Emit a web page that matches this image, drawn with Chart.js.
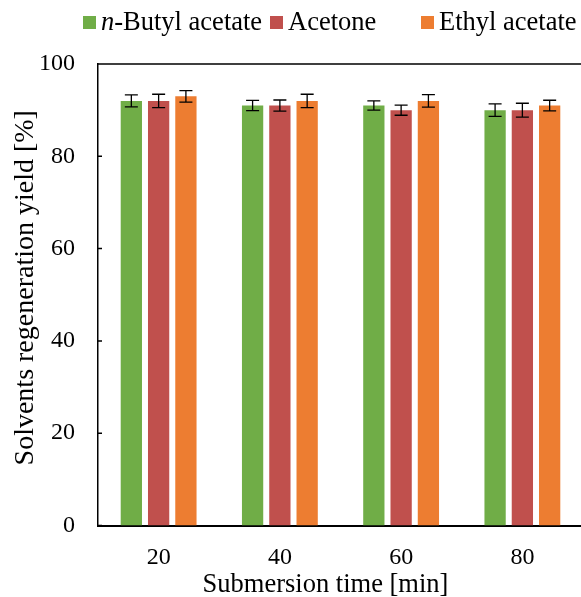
<!DOCTYPE html>
<html>
<head>
    <title>Solvents regeneration yield</title>
    <script src="https://cdn.jsdelivr.net/npm/chart.js"></script>
    <style>
        html, body {margin: 0; padding: 0; background: #fff; overflow: hidden;}
        #wrap {position: absolute; left: 0; top: 0; width: 600px; height: 597px;}
        #legend {position: absolute; left: 0; top: 0; width: 600px; height: 40px; font: 26.5px "Liberation Serif", "Times New Roman", serif; color: #000;}
        .lg-box {position: absolute; top: 16px; width: 13px; height: 13px;}
        .lg-text {position: absolute; top: 8px; line-height: 26.5px; white-space: nowrap;}
    </style>
</head>
<body>
    <div id="wrap">
        <canvas id="myChart"></canvas>
    </div>
    <div id="legend"></div>
    <script>
        var categories = ['20', '40', '60', '80'];
        var seriesNames = ['n-Butyl acetate', 'Acetone', 'Ethyl acetate'];
        var butylYield = [92, 91, 91, 90];
        var acetoneYield = [92, 91, 90, 90];
        var ethylYield = [93, 92, 92, 91];
        var butylErr = [1.3, 1.1, 1.0, 1.35];
        var acetoneErr = [1.45, 1.2, 1.1, 1.5];
        var ethylErr = [1.25, 1.45, 1.35, 1.15];
        var colors = ['#70AD47', '#C0504D', '#ED7D31'];
        var xTitle = 'Submersion time [min]';
        var yTitle = 'Solvents regeneration yield [%]';

        var serif = '"Liberation Serif", "Times New Roman", serif';

        // legend in html so the "n" can be italic
        var legendX = [83, 270, 421];
        var legend = document.getElementById('legend');
        seriesNames.forEach(function(name, i) {
            var box = document.createElement('div');
            box.className = 'lg-box';
            box.style.left = legendX[i] + 'px';
            box.style.background = colors[i];
            legend.appendChild(box);
            var txt = document.createElement('div');
            txt.className = 'lg-text';
            txt.style.left = (legendX[i] + 18) + 'px';
            if (name.indexOf('n-') === 0) {
                txt.innerHTML = '<i>n</i>' + name.slice(1);
            } else {
                txt.textContent = name;
            }
            legend.appendChild(txt);
        });

        var errors = [butylErr, acetoneErr, ethylErr];

        var errorBars = {
            id: 'errorBars',
            afterDatasetsDraw: function(chart) {
                var ctx = chart.ctx;
                var y = chart.scales.y;
                ctx.save();
                ctx.strokeStyle = '#000';
                ctx.lineWidth = 1.3;
                chart.data.datasets.forEach(function(ds, d) {
                    var meta = chart.getDatasetMeta(d);
                    meta.data.forEach(function(bar, i) {
                        var top = y.getPixelForValue(ds.data[i] + errors[d][i]);
                        var bot = y.getPixelForValue(ds.data[i] - errors[d][i]);
                        ctx.beginPath();
                        ctx.moveTo(bar.x, top); ctx.lineTo(bar.x, bot);
                        ctx.moveTo(bar.x - 6.5, top); ctx.lineTo(bar.x + 6.5, top);
                        ctx.moveTo(bar.x - 6.5, bot); ctx.lineTo(bar.x + 6.5, bot);
                        ctx.stroke();
                    });
                });
                ctx.restore();
            }
        };

        // box around the plot, inward y ticks, and the axis titles (placed like the original, slightly off centre)
        var frame = {
            id: 'frame',
            afterDraw: function(chart) {
                var a = chart.chartArea;
                var ctx = chart.ctx;
                var y = chart.scales.y;
                ctx.save();
                ctx.strokeStyle = '#000';
                ctx.lineWidth = 1.5;
                ctx.beginPath();
                ctx.moveTo(a.left, a.top); ctx.lineTo(a.right, a.top);
                ctx.moveTo(a.right, a.top); ctx.lineTo(a.right, a.bottom);
                y.ticks.forEach(function(t) {
                    var py = y.getPixelForValue(t.value);
                    ctx.moveTo(a.left, py); ctx.lineTo(a.left + 4, py);
                });
                ctx.stroke();

                ctx.fillStyle = '#000';
                ctx.textAlign = 'center';
                ctx.textBaseline = 'alphabetic';
                ctx.font = '26.5px ' + serif;
                ctx.fillText(xTitle, (a.left + a.right) / 2 - 15, 591.5);

                ctx.translate(33, (a.top + a.bottom) / 2 - 7);
                ctx.rotate(-Math.PI / 2);
                ctx.font = '28px ' + serif;
                ctx.fillText(yTitle, 0, 0);
                ctx.restore();
            }
        };

        var ctx = document.getElementById('myChart').getContext('2d');
        new Chart(ctx, {
            type: 'bar',
            data: {
                labels: categories,
                datasets: [butylYield, acetoneYield, ethylYield].map(function(vals, i) {
                    return {
                        label: seriesNames[i],
                        data: vals,
                        backgroundColor: colors[i],
                        categoryPercentage: 0.675,
                        barPercentage: 0.78
                    };
                })
            },
            options: {
                responsive: true,
                maintainAspectRatio: false,
                animation: false,
                layout: {padding: {top: 64, right: 17, left: 0, bottom: 0}},
                plugins: {
                    legend: {display: false},
                    tooltip: {enabled: false}
                },
                scales: {
                    x: {
                        grid: {display: false, drawTicks: false},
                        border: {display: true, color: '#000', width: 2},
                        ticks: {color: '#000', padding: 18, font: {family: serif, size: 24}},
                        afterFit: function(scale) { scale.height = 71.5; }
                    },
                    y: {
                        min: 0,
                        max: 100,
                        grid: {display: false, drawTicks: false},
                        border: {display: true, color: '#000', width: 1.5},
                        ticks: {stepSize: 20, color: '#000', padding: 23, font: {family: serif, size: 24}},
                        afterFit: function(scale) { scale.width = 98; }
                    }
                }
            },
            plugins: [errorBars, frame]
        });
    </script>
</body>
</html>
